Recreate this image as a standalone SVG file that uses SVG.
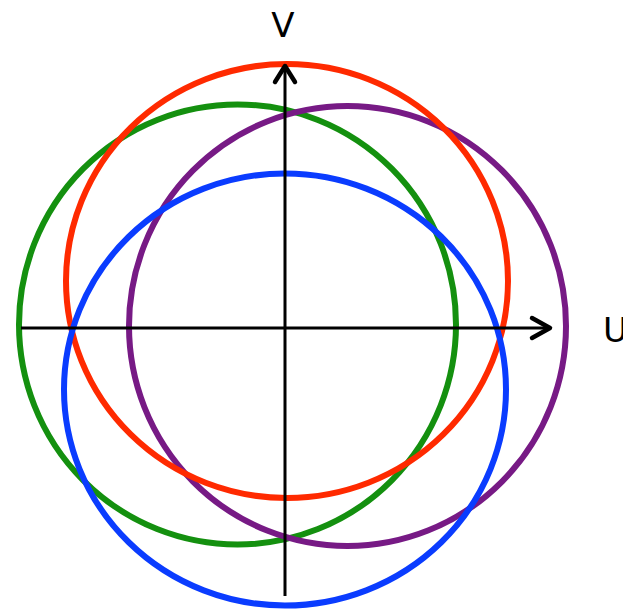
<svg xmlns="http://www.w3.org/2000/svg" width="623" height="609" viewBox="0 0 623 609">
<style>
.c{fill:none;stroke-width:6}
.ax{fill:none;stroke:#000;stroke-width:3}
.ah{fill:none;stroke:#000;stroke-width:4.5;stroke-linecap:round;stroke-linejoin:round}
text{font-family:"DejaVu Sans","Liberation Sans",sans-serif;font-size:34px;fill:#000}
</style>
<rect width="623" height="609" fill="#fff"/>
<g id="green"><ellipse class="c" stroke="#14900f" cx="237.5" cy="324.5" rx="218.5" ry="220"/></g>
<g id="purple"><ellipse class="c" stroke="#771a85" cx="347.5" cy="326" rx="218.5" ry="220"/></g>
<g id="red"><ellipse class="c" stroke="#ff2a00" cx="287" cy="281" rx="221" ry="217"/></g>
<g id="blue"><ellipse class="c" stroke="#0a3cff" cx="285" cy="389.5" rx="221" ry="216"/></g>
<g id="axes">
<line class="ax" x1="21" y1="328" x2="551" y2="328"/>
<line class="ax" x1="285" y1="596" x2="285" y2="66"/>
<polyline class="ah" points="532,318 550,328 532,338"/>
<polyline class="ah" points="275,82 285,66 295,82"/>
</g>
<g id="labels">
<text x="283" y="37" text-anchor="middle">V</text>
<text x="603" y="342">U</text>
</g>
</svg>
